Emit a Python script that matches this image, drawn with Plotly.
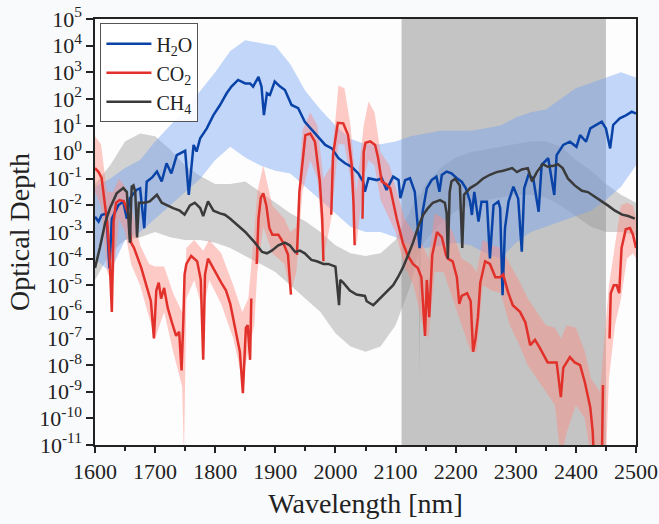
import plotly.graph_objects as go

# ---------------- data (log10 of optical depth) ----------------
h2o_wl = [1600, 1606, 1611, 1619, 1624, 1628, 1639, 1647, 1653, 1658, 1669, 1675, 1682, 1686, 1695,
          1703, 1711, 1719, 1727, 1736, 1750, 1756, 1764, 1769, 1775, 1786, 1797, 1808, 1819, 1827,
          1838, 1850, 1858, 1863, 1872, 1877, 1881, 1886, 1891, 1899, 1908, 1916, 1927, 1938, 1949,
          1961, 1972, 1983, 1994, 2005, 2016, 2027, 2038, 2046, 2049, 2055, 2069, 2077, 2085, 2096,
          2105, 2108, 2116, 2124, 2132, 2140, 2145, 2152, 2160, 2168, 2173, 2177, 2185, 2193, 2202,
          2210, 2217, 2224, 2227, 2231, 2238, 2243, 2252, 2257, 2263, 2271, 2274, 2278, 2282, 2288,
          2296, 2304, 2310, 2314, 2321, 2329, 2338, 2343, 2354, 2364, 2368, 2379, 2390, 2401, 2407,
          2417, 2424, 2435, 2443, 2450, 2457, 2462, 2473, 2484, 2493, 2500]
h2o_log = [-2.43, -2.61, -2.36, -2.3, -4.36, -2.5, -1.99, -1.86, -2.5, -1.73, -1.42, -1.36, -2.86, -1.11, -0.95,
           -0.73, -1.1, -0.42, -0.8, -0.11, 0.05, -1.61, 0.27, 0.02, 0.52, 0.89, 1.39, 1.77, 2.21, 2.46,
           2.71, 2.58, 2.58, 2.46, 2.83, 2.46, 1.39, 2.21, 2.15, 2.65, 2.46, 2.33, 1.77, 1.65, 1.14,
           0.83, 0.52, 0.27, 0.14, -0.23, -0.42, -0.55, -0.8, -1.11, -1.49, -0.98, -1.05, -0.98, -1.42, -0.92,
           -1.05, -1.73, -1.05, -0.98, -1.49, -3.61, -2.24, -1.36, -1.05, -0.92, -1.49, -0.86, -0.73, -0.8, -0.98,
           -1.11, -1.36, -1.86, -2.36, -1.49, -2.61, -1.86, -1.86, -3.99, -1.99, -1.86, -2.1, -5.37, -2.86, -1.86,
           -1.3, -1.74, -3.74, -1.36, -0.86, -0.98, -2.24, -0.48, -0.23, -1.61, -0.11, 0.27, 0.39, 0.2, 0.64,
           0.39, 0.89, 1.02, 1.14, 0.89, 0.14, 1.02, 1.27, 1.39, 1.52, 1.45]

co2_wl = [1600, 1606, 1611, 1616, 1620, 1624, 1628, 1631, 1635, 1641, 1648, 1652, 1656, 1660, 1665,
          1677, 1686, 1693, 1698, 1702, 1706, 1710, 1715, 1721, 1728, 1735, 1740, 1744, 1747, 1749,
          1752, 1760, 1770, 1776, 1780, 1783, 1788, 1795, 1800, 1810, 1818, 1825, 1833, 1841, 1846,
          1851, 1854, 1858, 1860, 1864, 1869, 1872, 1876, 1880, 1885, 1890, 1895, 1905, 1913, 1921,
          1926, 1931, 1936, 1940, 1950, 1958, 1966, 1974, 1978, 1980, 1987, 1993, 1996, 2004, 2013,
          2021, 2027, 2030, 2032, 2039, 2045, 2047, 2050, 2058, 2066, 2071, 2077, 2084, 2091, 2096,
          2102, 2112, 2120, 2129, 2137, 2143, 2149, 2152, 2156, 2161, 2169, 2177, 2184, 2187, 2195,
          2202, 2206, 2210, 2219, 2225, 2229, 2233, 2237, 2241, 2249, 2257, 2266, 2274, 2279, 2287,
          2295, 2307, 2316, 2324, 2332, 2340, 2353, 2368, 2375, 2379, 2390, 2398, 2407, 2415, 2424,
          2428, 2431, 2437, 2443, 2445, 2450, 2456, 2458, 2463, 2468, 2472, 2476, 2483, 2490, 2495, 2500]
co2_log = [-0.6, -0.75, -0.97, -1.8, -2.6, -3.8, -6.0, -2.6, -1.9, -1.8, -1.85, -2.1, -2.35, -3.4, -3.6,
           -4.35, -5.1, -5.6, -7.0, -5.2, -4.9, -5.5, -5.1, -5.85, -6.4, -6.9, -6.75, -8.2, -6.3, -4.6,
           -4.2, -3.9, -4.1, -4.8, -7.8, -4.6, -4.0, -4.3, -4.5, -4.9, -5.2, -5.7, -6.6, -7.5, -9.05,
           -6.6, -6.5, -7.8, -5.5, None, -4.2, -2.5, -1.7, -1.55, -2.0, -2.85, -3.1, -3.1, -3.4, -3.85,
           -5.35, None, -3.86, -1.5, 0.64, 0.7, 0.38, -1.1, -2.5, -4.1, None, -2.35, -0.1, 1.1, 1.08,
           0.64, -0.5, -1.9, -3.5, None, -2.5, 0.0, 0.35, 0.4, 0.27, -0.22, -1.1, -1.2, -1.35, -1.9,
           -2.5, -3.4, -3.87, -4.2, -4.35, -4.7, -6.9, -4.8, -6.2, -3.87, -3.0, -3.2, -3.87, -4.0, -4.1,
           -4.7, -5.7, -5.4, -5.3, -5.6, -7.5, -7.0, -6.2, -4.9, -4.1, -4.2, -4.7, -4.7, -4.6, -5.25,
           -5.75, -6.0, -6.4, -7.25, -7.05, -7.35, -7.9, -7.9, -9.2, -8.1, -7.7, -7.9, -8.0, -8.65, -9.6,
           -10.5, -12.0, None, -12.0, -8.75, None, -7.0, -5.3, -5.0, -5.0, -5.3, -3.6, -2.9, -2.85, -3.1, -3.6]

ch4_wl = [1600, 1604, 1608, 1617, 1625, 1636, 1647, 1653, 1658, 1661, 1664, 1667, 1670, 1673, 1683,
          1691, 1703, 1711, 1720, 1730, 1741, 1749, 1758, 1766, 1775, 1780, 1788, 1797, 1808, 1816,
          1825, 1833, 1850, 1866, 1878, 1886, 1894, 1905, 1916, 1924, 1933, 1941, 1949, 1960, 1969,
          1980, 1988, 2000, 2006, 2008, 2013, 2024, 2035, 2049, 2052, 2063, 2074, 2086, 2096, 2104,
          2112, 2121, 2129, 2137, 2146, 2154, 2162, 2174, 2182, 2185, 2187, 2190, 2193, 2199, 2207,
          2211, 2214, 2224, 2235, 2245, 2257, 2268, 2279, 2294, 2302, 2310, 2320, 2327, 2335, 2345,
          2353, 2365, 2370, 2378, 2387, 2398, 2410, 2420, 2432, 2443, 2453, 2465, 2477, 2487, 2498]
ch4_log = [-4.35, -4.0, -3.6, -2.65, -2.1, -1.55, -1.35, -1.5, -3.4, -1.3, -1.25, -1.5, -3.2, -1.9, -1.9,
           -1.85, -1.6, -1.9, -2.0, -2.1, -2.2, -2.35, -2.0, -1.9, -2.1, -2.4, -1.85, -2.2, -2.3, -2.35,
           -2.5, -2.65, -3.0, -3.4, -3.75, -3.8, -3.7, -3.5, -3.4, -3.5, -3.75, -3.7, -3.8, -4.05, -4.1,
           -4.2, -4.2, -4.3, -5.75, -4.8, -4.9, -5.2, -5.35, -5.4, -5.6, -5.75, -5.5, -5.25, -5.0, -4.7,
           -4.35, -3.86, -3.4, -2.85, -2.35, -2.1, -1.9, -1.8, -1.9, -2.3, -4.0, -1.5, -1.1, -1.0, -1.25,
           -3.6, -1.6, -1.35, -1.2, -1.0, -0.85, -0.75, -0.7, -0.6, -0.75, -0.65, -0.6, -1.1, -0.75, -0.45,
           -0.55, -0.5, -0.45, -0.6, -1.0, -1.25, -1.45, -1.5, -1.7, -1.85, -2.0, -2.2, -2.35, -2.4, -2.5]

# spread of the unsmoothed (light) spectra: upper / lower envelopes, log10
h2o_band_wl = [1600, 1625, 1650, 1675, 1700, 1725, 1750, 1775, 1800, 1825, 1850, 1875, 1900, 1925, 1950,
               1975, 2000, 2025, 2050, 2075, 2100, 2125, 2150, 2175, 2200, 2225, 2250, 2275, 2300, 2325,
               2350, 2375, 2400, 2425, 2450, 2475, 2500]
h2o_band_hi = [-1.3, -1.0, -0.6, -0.3, 0.4, 1.0, 1.6, 2.3, 3.0, 3.8, 4.2, 4.1, 4.0, 3.3, 2.3,
               1.6, 1.0, 0.5, 0.3, 0.3, 0.4, 0.6, 0.7, 0.8, 0.8, 0.8, 0.9, 1.0, 1.3, 1.5,
               1.6, 2.0, 2.4, 2.6, 2.8, 3.0, 2.8]
h2o_band_lo = [-4.0, -4.5, -3.3, -3.0, -2.5, -2.0, -1.5, -1.0, -0.3, 0.2, -0.2, -0.5, -0.7, -0.8, -1.3,
               -1.8, -2.3, -2.8, -3.0, -3.0, -3.2, -3.5, -3.6, -3.5, -3.4, -3.5, -3.8, -4.0, -3.4, -3.0,
               -2.8, -2.6, -2.4, -2.2, -1.8, -1.3, -0.5]

ch4_band_wl = [1600, 1625, 1650, 1675, 1700, 1725, 1750, 1775, 1800, 1825, 1850, 1875, 1900, 1925, 1950,
               1975, 2000, 2025, 2050, 2075, 2100, 2125, 2138, 2140, 2142, 2150, 2175, 2200, 2225, 2250,
               2275, 2300, 2325, 2350, 2375, 2400, 2425, 2450, 2475, 2500]
ch4_band_hi = [-1.2, -0.5, 0.4, 0.7, 0.6, 0.1, -0.5, -0.9, -1.2, -1.2, -1.1, -1.5, -1.9, -2.3, -2.6,
               -3.0, -3.5, -3.8, -3.9, -3.8, -3.3, -2.2, -1.6, -1.6, -1.6, -1.2, -0.6, -0.2, 0.0, 0.1,
               0.2, 0.3, 0.4, 0.4, 0.2, -0.3, -0.7, -1.2, -1.6, -1.9]
ch4_band_lo = [-4.8, -3.8, -3.3, -3.2, -3.0, -3.2, -3.3, -3.3, -3.4, -3.6, -3.9, -4.2, -4.5, -5.0, -5.5,
               -6.0, -6.8, -7.3, -7.5, -7.3, -6.5, -5.0, -3.8, -8.4, -3.6, -3.3, -2.7, -2.2, -2.0, -1.8,
               -1.7, -1.6, -1.6, -1.7, -2.0, -2.4, -2.8, -3.0, -3.0, -3.1]

co2_band_wl = [1600, 1610, 1620, 1630, 1640, 1650, 1660, 1675, 1690, 1700, 1715, 1730, 1745, 1748, 1752,
               1765, 1780, 1790, 1810, 1830, 1845, 1855, 1865, 1870, 1880, 1895, 1915, 1925, 1935, 1945,
               1958, 1970, 1980, 1993, 2005, 2015, 2025, 2035, 2047, 2055, 2065, 2075, 2090, 2100, 2115,
               2130, 2145, 2155, 2165, 2180, 2195, 2210, 2225, 2235, 2245, 2260, 2275, 2290, 2305, 2320,
               2335, 2350, 2365, 2375, 2385, 2400, 2415, 2425, 2440, 2450, 2455, 2465, 2475, 2485, 2495, 2500]
co2_band_hi = [0.6, 0.3, -1.5, -1.5, -1.0, -1.3, -2.0, -3.5, -4.2, -4.3, -4.3, -5.3, -6.0, -6.0, -3.6,
               -3.3, -3.7, -3.3, -3.8, -5.0, -6.0, -5.5, -3.0, -1.5, -0.5, -2.0, -2.5, -3.0, -2.8, 0.8,
               1.5, 1.0, -1.0, -0.5, 2.5, 2.4, 1.0, -1.5, 1.0, 1.9, 1.5, 0.0, -0.5, -1.3, -2.5,
               -3.0, -3.5, -4.0, -2.3, -2.5, -3.0, -4.0, -4.2, -4.5, -3.3, -3.5, -3.6, -4.2, -4.8, -5.5,
               -6.0, -6.5, -6.6, -7.0, -6.5, -6.6, -7.5, -8.5, -9.0, -6.5, -5.0, -3.5, -2.0, -1.9, -2.0, -2.5]
co2_band_lo = [-1.5, -2.0, -4.5, -5.0, -2.5, -3.0, -4.2, -5.0, -6.2, -7.0, -6.0, -7.5, -8.8, -11.5, -5.5,
               -4.8, -6.0, -4.8, -5.7, -7.0, -8.5, -7.5, -6.5, -4.5, -2.8, -3.8, -4.2, -5.3, -4.5, -1.5,
               -0.3, -1.0, -4.0, -2.5, 0.3, 0.3, -1.0, -3.5, -1.0, -0.3, -0.5, -1.8, -2.5, -3.0, -4.3,
               -5.0, -6.5, -7.0, -4.5, -4.5, -5.5, -6.5, -7.5, -7.5, -5.0, -5.2, -5.3, -6.5, -7.2, -8.0,
               -8.5, -9.0, -9.5, -11.5, -10.5, -9.5, -10.0, -11.5, -11.5, -11.5, -8.5, -6.5, -5.5, -4.0, -3.8, -4.0]

band_start, band_end = 2110, 2450

y_tick_exp = list(range(-11, 6))
x_ticks = list(range(1600, 2501, 100))


def lin(vals):
    return [None if v is None else 10 ** v for v in vals]


FONT = "Liberation Serif, Times New Roman, serif"
fig = go.Figure()

# light unsmoothed spectra as envelopes
for wl, lo, hi, col in [
    (ch4_band_wl, ch4_band_lo, ch4_band_hi, "rgba(150,150,150,0.42)"),
    (h2o_band_wl, h2o_band_lo, h2o_band_hi, "rgba(110,160,240,0.42)"),
    (co2_band_wl, co2_band_lo, co2_band_hi, "rgba(255,140,130,0.45)"),
]:
    fig.add_trace(go.Scatter(x=wl, y=lin(lo), mode="lines", line=dict(width=0),
                             showlegend=False, hoverinfo="skip"))
    fig.add_trace(go.Scatter(x=wl, y=lin(hi), mode="lines", line=dict(width=0),
                             fill="tonexty", fillcolor=col, showlegend=False, hoverinfo="skip"))

fig.add_trace(go.Scatter(x=h2o_wl, y=lin(h2o_log), mode="lines", name="H<sub>2</sub>O",
                         line=dict(color="#0a43a8", width=2.5)))
fig.add_trace(go.Scatter(x=co2_wl, y=lin(co2_log), mode="lines", name="CO<sub>2</sub>",
                         line=dict(color="#e2302a", width=2.5), connectgaps=False))
fig.add_trace(go.Scatter(x=ch4_wl, y=lin(ch4_log), mode="lines", name="CH<sub>4</sub>",
                         line=dict(color="#3a3a3a", width=2.5)))

fig.add_vrect(x0=band_start, x1=band_end, fillcolor="#c4c4c4", opacity=1, line_width=0, layer="below")

fig.update_layout(
    width=659, height=524,
    margin=dict(l=95, r=23, t=19, b=79),
    paper_bgcolor="#f9fafc", plot_bgcolor="#fdfdfe",
    font=dict(family=FONT, color="#222222", size=22),
    showlegend=True,
    legend=dict(x=0.01, y=0.99, xanchor="left", yanchor="top", traceorder="normal",
                bgcolor="rgba(255,255,255,0.9)", bordercolor="#555555", borderwidth=1,
                font=dict(family=FONT, size=20, color="#222222"), tracegroupgap=0,
                itemwidth=45),
)
fig.update_xaxes(
    range=[1600, 2500], tickvals=x_ticks, ticks="outside", ticklen=6, tickwidth=1.5,
    tickcolor="#222", showline=True, linecolor="#222", linewidth=1.5, mirror=True,
    showgrid=False, zeroline=False, automargin=False, ticklabeloverflow="allow",
    minor=dict(ticks="outside", ticklen=4, dtick=50, tickcolor="#222", showgrid=False),
    title=dict(text="Wavelength [nm]", font=dict(size=28, family=FONT), standoff=10),
    tickfont=dict(size=22, family=FONT),
)
fig.update_yaxes(
    type="log", range=[-11, 5],
    tickvals=[10 ** e for e in y_tick_exp],
    ticktext=["10<sup>%d</sup>" % e for e in y_tick_exp],
    ticks="outside", ticklen=7, tickwidth=1.5, tickcolor="#222",
    showline=True, linecolor="#222", linewidth=1.5, mirror=True,
    showgrid=False, zeroline=False, automargin=False, ticklabeloverflow="allow",
    minor=dict(ticks="outside", ticklen=4, tickcolor="#222", showgrid=False),
    title=dict(text="Optical Depth", font=dict(size=28, family=FONT), standoff=2),
    tickfont=dict(size=22, family=FONT),
)

# remove the page's default body margin so the figure sits at the window's top-left corner
fig.write_html("out.html", config={"displayModeBar": False},
               post_script="document.body.style.margin='0px';")
